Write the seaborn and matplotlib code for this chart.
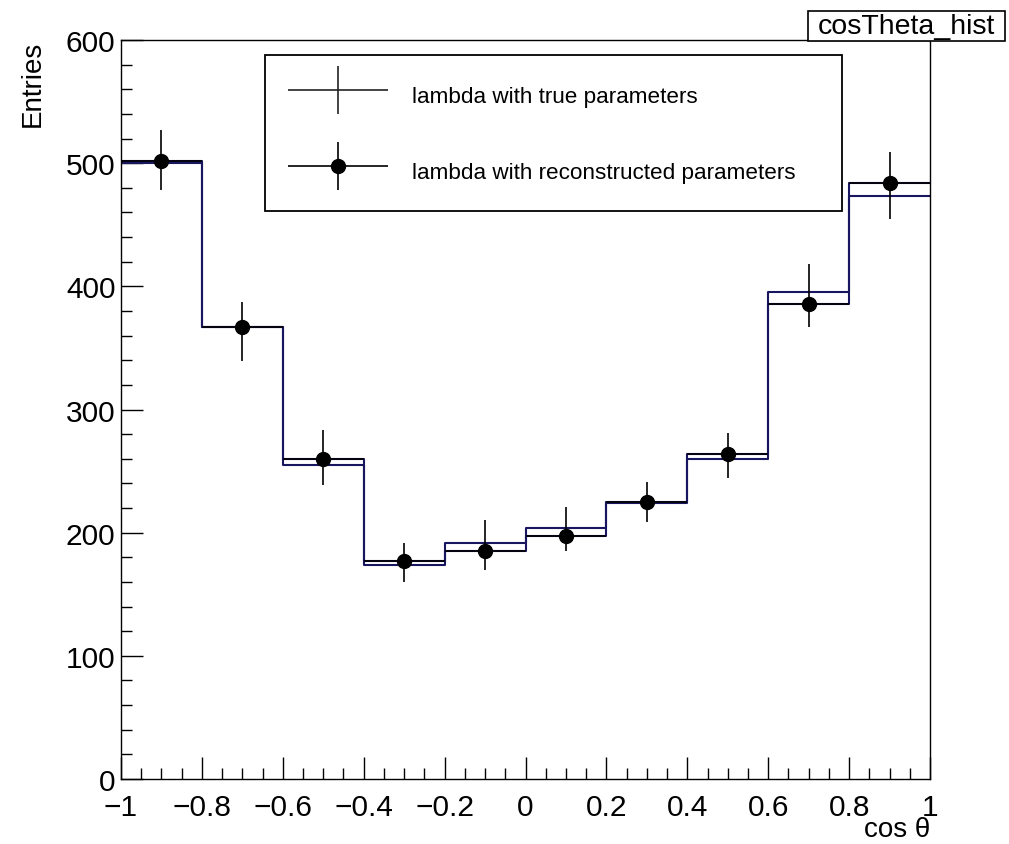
import numpy as np
import pandas as pd
import matplotlib
matplotlib.use("Agg")
import matplotlib.pyplot as plt
import seaborn as sns
from matplotlib.container import ErrorbarContainer
from matplotlib.legend_handler import HandlerErrorbar
from matplotlib.ticker import MultipleLocator
from matplotlib.patches import Rectangle

# ---------------- data ----------------
bin_edges = [-1.0, -0.8, -0.6, -0.4, -0.2, 0.0, 0.2, 0.4, 0.6, 0.8, 1.0]
bin_centers = [-0.9, -0.7, -0.5, -0.3, -0.1, 0.1, 0.3, 0.5, 0.7, 0.9]
true_counts = [500, 367, 255, 174, 192, 204, 224, 260, 395, 473]
reco_counts = [502, 367, 260, 177, 185, 197, 225, 264, 386, 484]
reco_err_low = [478, 339, 239, 160, 170, 185, 209, 244, 367, 455]
reco_err_high = [527, 387, 283, 192, 210, 221, 241, 281, 418, 509]
x_ticks = [-1, -0.8, -0.6, -0.4, -0.2, 0, 0.2, 0.4, 0.6, 0.8, 1]
x_tick_labels = ["\u22121", "\u22120.8", "\u22120.6", "\u22120.4", "\u22120.2", "0",
                 "0.2", "0.4", "0.6", "0.8", "1"]
y_ticks = [0, 100, 200, 300, 400, 500, 600]
labels = ["lambda with true parameters", "lambda with reconstructed parameters"]

# ---------------- style ----------------
sns.set_style("ticks")
plt.rcParams['font.family'] = ['Liberation Sans', 'DejaVu Sans']
plt.rcParams['text.color'] = 'black'
plt.rcParams['axes.labelcolor'] = 'black'
plt.rcParams['xtick.color'] = 'black'
plt.rcParams['ytick.color'] = 'black'

W, H = 1009, 845
fig = plt.figure(figsize=(W / 100, H / 100), dpi=100)
ax = fig.add_axes([121 / W, 1 - 780 / H, (930 - 121) / W, (780 - 41) / H])

navy = '#18165e'
df = pd.DataFrame({'cos': bin_centers, 'true': true_counts, 'reco': reco_counts})
sns.histplot(data=df, x='cos', weights='true', bins=bin_edges, element='step',
             fill=False, color=navy, linewidth=1.5, ax=ax)
sns.histplot(data=df, x='cos', weights='reco', bins=bin_edges, element='step',
             fill=False, color=navy, linewidth=1.5, ax=ax)

centers = np.array(bin_centers)
rc = np.array(reco_counts)
half_w = np.diff(bin_edges) / 2
yerr = [rc - np.array(reco_err_low), np.array(reco_err_high) - rc]
h_reco = ax.errorbar(centers, rc, xerr=half_w, yerr=yerr, fmt='o', color='black',
                     ms=10, elinewidth=1.2, capsize=0, zorder=5)
h_true = ax.errorbar([np.nan], [np.nan], xerr=[0.1], yerr=[1.0], fmt='none',
                     ecolor='#222222', elinewidth=1.2, capsize=0)

ax.set_xlim(-1, 1)
ax.set_ylim(0, 600)
ax.set_xticks(x_ticks)
ax.set_xticklabels(x_tick_labels)
ax.set_yticks(y_ticks)
ax.xaxis.set_minor_locator(MultipleLocator(0.05))
ax.yaxis.set_minor_locator(MultipleLocator(20))
ax.tick_params(which='major', direction='in', length=16, width=1, labelsize=21.5,
               top=False, right=False, colors='black')
ax.tick_params(which='minor', direction='in', length=8, width=1,
               top=False, right=False)
ax.tick_params(axis='x', which='major', pad=10)
ax.tick_params(axis='y', which='major', pad=4)
for lbl in ax.get_yticklabels():
    lbl.set_va('center_baseline')
for s in ax.spines.values():
    s.set_visible(True)
    s.set_linewidth(1.0)
    s.set_color('black')

ax.set_ylabel('Entries', fontsize=20, loc='top')
ax.yaxis.set_label_coords(-0.093, 1.0)
ax.set_xlabel('cos \u03b8', fontsize=20, loc='right')
ax.xaxis.set_label_coords(1.0, -0.05)
ax.xaxis.label.set_va('top')

leg = ax.legend([h_true, h_reco], labels,
                loc='upper left',
                bbox_to_anchor=(265 / W, 1 - 56 / H, (842 - 265) / W, 0),
                bbox_transform=fig.transFigure, mode='expand', borderaxespad=0,
                fontsize=16.2, handlelength=4.45, handleheight=2.0,
                handletextpad=1.1, labelspacing=1.84, borderpad=1.0,
                frameon=True, fancybox=False, edgecolor='black', framealpha=1,
                handler_map={ErrorbarContainer: HandlerErrorbar(xerr_size=2.22, yerr_size=1.07)})
leg.get_frame().set_linewidth(1.3)
for t in leg.get_texts():
    t.set_color('black')

# title box
fig.patches.append(Rectangle((808 / W, 1 - 42 / H), (1005 - 808) / W, 30 / H,
                             transform=fig.transFigure, fc='white', ec='black', lw=1.2))
fig.text(906 / W, 1 - 27 / H, 'cosTheta_hist', ha='center', va='center', fontsize=20.5)

fig.savefig('out.png', dpi=100)
